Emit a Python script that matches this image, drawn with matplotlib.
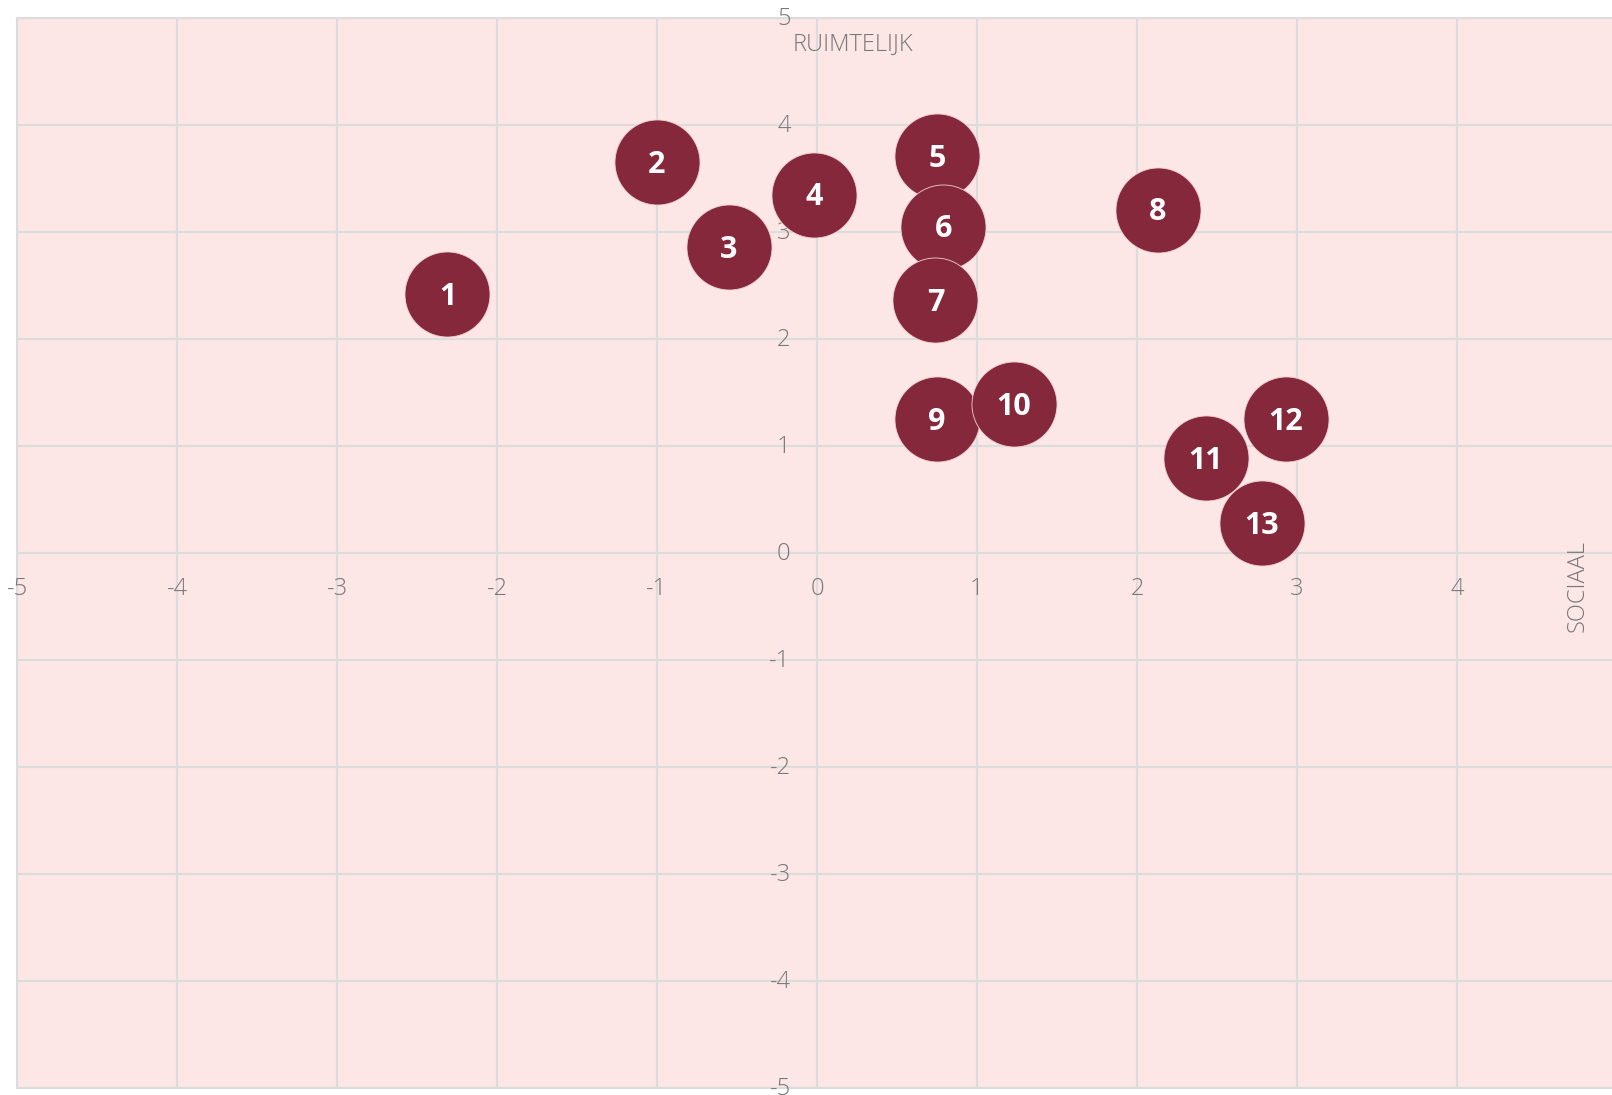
import matplotlib
matplotlib.use("Agg")
import matplotlib.pyplot as plt

# ── data ──────────────────────────────────────────────
labels = ["1", "2", "3", "4", "5", "6", "7", "8", "9", "10", "11", "12", "13"]
sociaal = [-2.31, -1.00, -0.55, -0.02, 0.75, 0.79, 0.74, 2.13, 0.75, 1.23, 2.43, 2.93, 2.78]
ruimtelijk = [2.42, 3.65, 2.86, 3.35, 3.71, 3.05, 2.36, 3.21, 1.25, 1.39, 0.89, 1.25, 0.28]
x_ticks = [-5, -4, -3, -2, -1, 0, 1, 2, 3, 4]
y_ticks = [5, 4, 3, 2, 1, 0, -1, -2, -3, -4, -5]

BG = "#fce6e6"
GRID = "#dcdcdc"
BUBBLE = "#85283c"
TXT = "#777777"

plt.rcParams["font.family"] = ["Open Sans", "DejaVu Sans"]

fig = plt.figure(figsize=(16.12, 10.95), dpi=100)
# axes runs a few px past the right edge, as in the original
ax = fig.add_axes([17 / 1612, 7 / 1095, 1600 / 1612, 1070 / 1095])
ax.set_facecolor(BG)
ax.set_xlim(-5, 5)
ax.set_ylim(-5, 5)

ax.set_xticks(range(-5, 6))
ax.set_yticks(range(-5, 6))
ax.tick_params(length=0, labelbottom=False, labelleft=False)
ax.grid(True, color=GRID, linewidth=1.5, zorder=0)
ax.set_axisbelow(True)
for s in ax.spines.values():
    s.set_color(GRID)
    s.set_linewidth(1.5)

# tick labels sit on the zero lines
for v in x_ticks:
    ax.annotate(str(v), (v, 0), xytext=(0, -26), textcoords="offset points",
                ha="center", va="center", fontsize=17, color=TXT,
                fontweight="light", annotation_clip=False)
for v in y_ticks:
    ax.annotate(str(v), (0, v), xytext=(-19, -1), textcoords="offset points",
                ha="right", va="center", fontsize=17, color=TXT,
                fontweight="light", annotation_clip=False)

ax.annotate("RUIMTELIJK", (0, 5), xytext=(26, -19), textcoords="offset points",
            ha="center", va="center", fontsize=17, color=TXT, fontweight="light")
ax.text((1578 - 17) / 1600, 1 - (586 - 18) / 1070, "SOCIAAL",
        transform=ax.transAxes, rotation=90, ha="center", va="center",
        fontsize=17, color=TXT, fontweight="light")

# bubbles
for i, lab in enumerate(labels):
    ax.scatter(sociaal[i], ruimtelijk[i], s=3750, color=BUBBLE,
               edgecolors="#f0d0d4", linewidths=0.6, zorder=3 + i)
    ax.annotate(lab, (sociaal[i], ruimtelijk[i]), xytext=(0, -2),
                textcoords="offset points", ha="center", va="center",
                fontsize=22, fontweight="bold", color="white", zorder=3 + i)

fig.savefig("out.png", dpi=100, facecolor="white")
